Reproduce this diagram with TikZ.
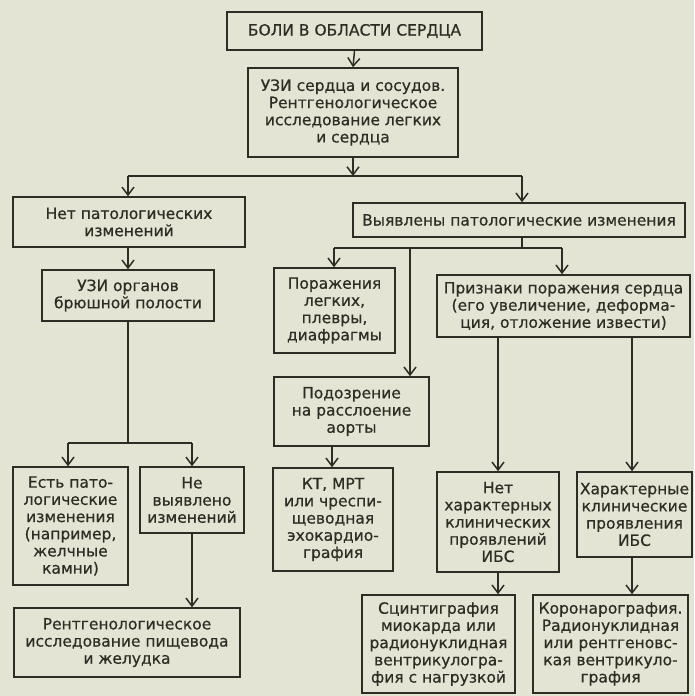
\documentclass[tikz,border=0pt]{standalone}
\usepackage{fontspec}
\setmainfont{DejaVu Sans}[FakeBold=0.6]
\usetikzlibrary{arrows.meta}
\definecolor{bg}{HTML}{E4E4D4}
\definecolor{ink}{HTML}{2E2D25}
\begin{document}
\begin{tikzpicture}[x=1pt,y=-1pt,
  box/.style={draw=ink, line width=1.5pt, text=ink, inner sep=0pt, align=center,
    font=\fontsize{15.5}{17.2}\selectfont},
  link/.style={draw=ink, line width=1.5pt},
  arr/.style={link, -{Straight Barb[length=8pt,width=12pt,line width=1.5pt]}}]
\fill[bg] (0,0) rectangle (694,696);
\useasboundingbox (0,0) rectangle (694,696);
% boxes: center (x,y), size
\node[box, minimum width=255, minimum height=38] (b1) at (354.5,31) {БОЛИ В ОБЛАСТИ СЕРДЦА};
\node[box, minimum width=210, minimum height=89] (b2) at (353,112.5) {УЗИ сердца и сосудов.\\Рентгенологическое\\исследование легких\\и сердца};
\node[box, minimum width=232, minimum height=50] (b3) at (129,222) {Нет патологических\\изменений};
\node[box, minimum width=332, minimum height=34] (b4) at (519,220) {Выявлены патологические изменения};
\node[box, minimum width=172, minimum height=51] (b5) at (128,295.5) {УЗИ органов\\брюшной полости};
\node[box, minimum width=115, minimum height=118] (b6) at (70.5,526) {Есть пато-\\логические\\изменения\\(например,\\желчные\\камни)};
\node[box, minimum width=104, minimum height=66] (b7) at (192,500) {Не\\выявлено\\изменений};
\node[box, minimum width=226, minimum height=69] (b8) at (127,642.5) {Рентгенологическое\\исследование пищевода\\и желудка};
\node[box, minimum width=121, minimum height=85] (b9) at (334.5,310.5) {Поражения\\легких,\\плевры,\\диафрагмы};
\node[box, minimum width=155, minimum height=69] (b10) at (351.5,411.5) {Подозрение\\на расслоение\\аорты};
\node[box, minimum width=120, minimum height=103] (b11) at (333,519.5) {КТ, МРТ\\или чреспи-\\щеводная\\эхокардио-\\графия};
\node[box, minimum width=253, minimum height=62] (b12) at (563.5,306) {Признаки поражения сердца\\(его увеличение, деформа-\\ция, отложение извести)};
\node[box, minimum width=122, minimum height=100] (b13) at (498,522) {Нет\\характерных\\клинических\\проявлений\\ИБС};
\node[box, minimum width=115, minimum height=85] (b14) at (634.5,514.5) {Характерные\\клинические\\проявления\\ИБС};
\node[box, minimum width=153, minimum height=98] (b15) at (438.5,644) {Сцинтиграфия\\миокарда или\\радионуклидная\\вентрикулогра-\\фия с нагрузкой};
\node[box, minimum width=155, minimum height=98] (b16) at (610.5,644) {Коронарография.\\Радионуклидная\\или рентгеновс-\\кая вентрикуло-\\графия};
% junction coordinates
\coordinate (j1) at (353,176);
\coordinate (j1l) at (128,176);
\coordinate (j1r) at (522,176);
\coordinate (j2) at (128,443);
\coordinate (j2l) at (68,443);
\coordinate (j2r) at (192,443);
\coordinate (j3) at (522,248);
\coordinate (j3l) at (334,248);
\coordinate (j3m) at (410,248);
\coordinate (j3r) at (562,248);
\coordinate (c10) at (332,446);
\coordinate (c12a) at (498,337);
\coordinate (c12b) at (632,337);
% connectors
\draw[arr] (b1.south) -- (b2.north);
\draw[arr] (b2.south) -- (j1);
\draw[link] (j1l) -- (j1r);
\draw[arr] (j1l) -- (j1l |- b3.north);
\draw[arr] (j1r) -- (j1r |- b4.north);
\draw[arr] (b5.north |- b3.south) -- (b5.north);
\draw[link] (b5.south) -- (j2);
\draw[link] (j2l) -- (j2r);
\draw[arr] (j2l) -- (j2l |- b6.north);
\draw[arr] (j2r) -- (b7.north);
\draw[arr] (b7.south) -- (b7.south |- b8.north);
\draw[link] (j3 |- b4.south) -- (j3);
\draw[link] (j3l) -- (j3r);
\draw[arr] (j3l) -- (j3l |- b9.north);
\draw[arr] (j3m) -- (j3m |- b10.north);
\draw[arr] (j3r) -- (j3r |- b12.north);
\draw[arr] (c10) -- (c10 |- b11.north);
\draw[arr] (c12a) -- (b13.north);
\draw[arr] (c12b) -- (c12b |- b14.north);
\draw[arr] (b13.south) -- (b13.south |- b15.north);
\draw[arr] (b14.south -| c12b) -- (c12b |- b16.north);
\end{tikzpicture}
\end{document}
